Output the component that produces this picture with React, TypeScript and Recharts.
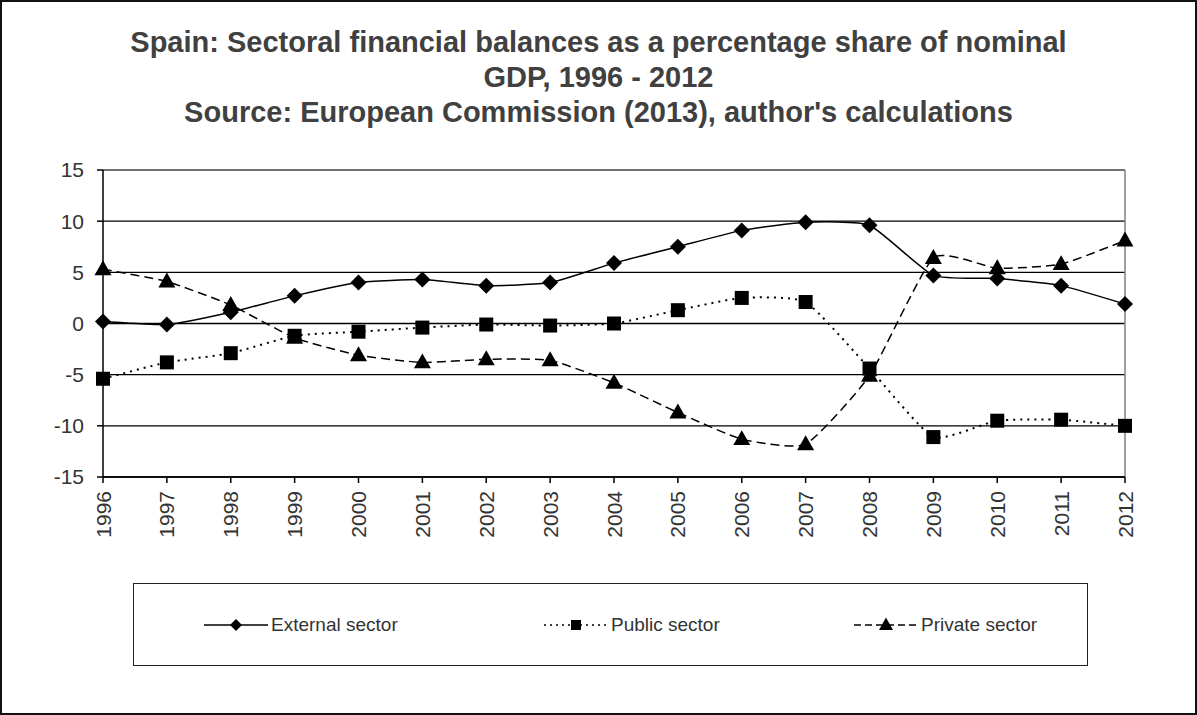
import { LineChart, Line, XAxis, YAxis, CartesianGrid, ReferenceLine } from 'recharts';

const YEARS = ['1996', '1997', '1998', '1999', '2000', '2001', '2002', '2003', '2004', '2005', '2006', '2007', '2008', '2009', '2010', '2011', '2012'];
const EXTERNAL = [0.2, -0.1, 1.1, 2.7, 4.0, 4.3, 3.7, 4.0, 5.9, 7.5, 9.1, 9.9, 9.6, 4.7, 4.4, 3.7, 1.9];
const PUBLIC = [-5.4, -3.8, -2.9, -1.2, -0.8, -0.4, -0.1, -0.2, 0.0, 1.3, 2.5, 2.1, -4.4, -11.1, -9.5, -9.4, -10.0];
const PRIVATE = [5.3, 4.1, 1.8, -1.4, -3.1, -3.8, -3.5, -3.6, -5.8, -8.7, -11.3, -11.8, -5.1, 6.4, 5.4, 5.8, 8.1];
const Y_TICKS = [-15, -10, -5, 0, 5, 10, 15];
const TITLE_LINES = [
  'Spain: Sectoral financial balances as a percentage share of nominal',
  'GDP, 1996 - 2012',
  "Source: European Commission (2013), author's calculations",
];

const data = YEARS.map((year, i) => ({
  year,
  external: EXTERNAL[i],
  public: PUBLIC[i],
  private: PRIVATE[i],
}));

const FONT = '"Liberation Sans", Arial, sans-serif';
const TEXT = '#333333';

// mild spreadsheet-style smoothing (catmull-rom with reduced tangents)
const SMOOTH = 12;
const smoothCurve = (context: any) => {
  let pts: number[][] = [];
  return {
    areaStart() {},
    areaEnd() {},
    lineStart() {
      pts = [];
    },
    point(x: number, y: number) {
      pts.push([+x, +y]);
    },
    lineEnd() {
      const n = pts.length;
      if (!n) return;
      context.moveTo(pts[0][0], pts[0][1]);
      for (let i = 0; i < n - 1; i++) {
        const p0 = pts[Math.max(i - 1, 0)];
        const p1 = pts[i];
        const p2 = pts[i + 1];
        const p3 = pts[Math.min(i + 2, n - 1)];
        context.bezierCurveTo(
          p1[0] + (p2[0] - p0[0]) / SMOOTH,
          p1[1] + (p2[1] - p0[1]) / SMOOTH,
          p2[0] - (p3[0] - p1[0]) / SMOOTH,
          p2[1] - (p3[1] - p1[1]) / SMOOTH,
          p2[0],
          p2[1]
        );
      }
    },
  };
};

// marker shapes
const Diamond = ({ cx, cy, r = 8 }: any) => (
  <path d={`M${cx},${cy - r} L${cx + r},${cy} L${cx},${cy + r} L${cx - r},${cy} Z`} fill="#000" />
);
const Square = ({ cx, cy, r = 7 }: any) => <rect x={cx - r} y={cy - r} width={r * 2} height={r * 2} fill="#000" />;
const Triangle = ({ cx, cy, r = 8.5 }: any) => (
  <path d={`M${cx},${cy - r * 1.06} L${cx + r},${cy + r * 0.7} L${cx - r},${cy + r * 0.7} Z`} fill="#000" />
);

const renderYearTick = ({ x, y, payload }: any) => (
  <text
    x={0}
    y={0}
    transform={`translate(${x + 7.5},${y + 6}) rotate(-90)`}
    textAnchor="end"
    fontSize={21}
    fill={TEXT}
    fontFamily={FONT}
  >
    {payload.value}
  </text>
);

const LEGEND = [
  { label: 'External sector', dash: undefined, Marker: Diamond, r: 6, left: 201 },
  { label: 'Public sector', dash: '2 4', Marker: Square, r: 5, left: 541 },
  { label: 'Private sector', dash: '7 4', Marker: Triangle, r: 7, left: 851 },
];

export default function App() {
  return (
    <div
      style={{
        position: 'absolute',
        left: 0,
        top: 0,
        width: 1197,
        height: 715,
        background: '#fff',
        border: '2px solid #111',
        boxSizing: 'border-box',
        fontFamily: FONT,
      }}
    >
      <div
        style={{
          position: 'absolute',
          left: 0,
          width: 1193,
          top: 23,
          textAlign: 'center',
          fontWeight: 'bold',
          fontSize: 29,
          lineHeight: '35px',
          color: '#404040',
        }}
      >
        {TITLE_LINES.map((t) => (
          <div key={t}>{t}</div>
        ))}
      </div>

      <div style={{ position: 'absolute', left: -2, top: -2 }}>
        <LineChart width={1197} height={715} data={data} margin={{ top: 170, right: 72, left: 43, bottom: 178 }}>
          <CartesianGrid horizontal vertical={false} stroke="#000" strokeWidth={1.3} />
          <ReferenceLine y={15} stroke="#808080" strokeWidth={1.5} />
          <ReferenceLine x="2012" stroke="#808080" strokeWidth={1.5} />
          <XAxis
            dataKey="year"
            height={60}
            stroke="#000"
            strokeWidth={1.5}
            tickSize={6}
            tick={renderYearTick}
            interval={0}
          />
          <YAxis
            width={60}
            domain={[-15, 15]}
            ticks={Y_TICKS}
            stroke="#000"
            strokeWidth={1.5}
            tickSize={6}
            tickMargin={13}
            tick={{ fontSize: 21, fill: TEXT, fontFamily: FONT }}
          />
          <Line
            type={smoothCurve as any}
            dataKey="external"
            stroke="#000"
            strokeWidth={1.5}
            dot={(p: any) => <Diamond key={`d${p.index}`} cx={p.cx} cy={p.cy} />}
            isAnimationActive={false}
          />
          <Line
            type={smoothCurve as any}
            dataKey="public"
            stroke="#000"
            strokeWidth={2}
            strokeDasharray="2 5"
            dot={(p: any) => <Square key={`s${p.index}`} cx={p.cx} cy={p.cy} />}
            isAnimationActive={false}
          />
          <Line
            type={smoothCurve as any}
            dataKey="private"
            stroke="#000"
            strokeWidth={1.5}
            strokeDasharray="9 5"
            dot={(p: any) => <Triangle key={`t${p.index}`} cx={p.cx} cy={p.cy} />}
            isAnimationActive={false}
          />
        </LineChart>
      </div>

      {/* legend box */}
      <div
        style={{
          position: 'absolute',
          left: 131,
          top: 581,
          width: 955,
          height: 83,
          border: '1.5px solid #222',
          boxSizing: 'border-box',
        }}
      >
        {LEGEND.map(({ label, dash, Marker, r, left }) => (
          <div key={label} style={{ position: 'absolute', left: left - 131, top: 30, display: 'flex', alignItems: 'center' }}>
            <svg width={64} height={20}>
              <line x1={0} y1={10} x2={64} y2={10} stroke="#000" strokeWidth={1.5} strokeDasharray={dash} />
              <Marker cx={32} cy={10} r={r} />
            </svg>
            <span style={{ fontSize: 19, color: TEXT, marginLeft: 3 }}>{label}</span>
          </div>
        ))}
      </div>
    </div>
  );
}
